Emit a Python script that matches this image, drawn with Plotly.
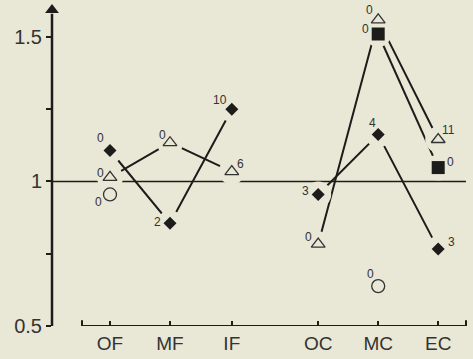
import plotly.graph_objects as go

# --- data ---
categories = ["OF", "MF", "IF", "OC", "MC", "EC"]
cat_pos = [1, 2, 3.03, 4.47, 5.47, 6.47]   # IF/OC gap is wider in the original

# filled diamonds
diamond_cat = ["OF", "MF", "IF", "OC", "MC", "EC"]
diamond_val = [1.107, 0.855, 1.25, 0.955, 1.162, 0.766]
diamond_n = [0, 2, 10, 3, 4, 3]

# open triangles
triangle_cat = ["OF", "MF", "IF", "OC", "MC", "EC"]
triangle_val = [1.014, 1.134, 1.034, 0.783, 1.559, 1.145]
triangle_n = [0, 0, 6, 0, 0, 11]

# filled squares
square_cat = ["MC", "EC"]
square_val = [1.51, 1.048]
square_n = [0, 0]

# open circles
circle_cat = ["OF", "MC"]
circle_val = [0.955, 0.638]
circle_n = [0, 0]

# label offsets (px) for the little count numbers
diamond_off = [(-10, -13), (-13, -1), (-12, -9), (-13, -3), (-6, -12), (13, -7)]
triangle_off = [(-10, -4), (-8, -8), (9, -8), (-10, -7), (-9, -10), (10, -10)]
square_off = [(-13, -5), (12, -6)]
circle_off = [(-12, 8), (-8, -12)]

BG = "#e9e7d6"
INK = "#1c1c1a"
pos = dict(zip(categories, cat_pos))

def xs(cats):
    return [pos[c] for c in cats]

fig = go.Figure()

# connecting lines (split into the two region groups)
def add_line(cats, vals):
    fig.add_trace(go.Scatter(x=xs(cats), y=vals, mode="lines",
                             line=dict(color=INK, width=2), hoverinfo="skip",
                             showlegend=False))

add_line(diamond_cat[:3], diamond_val[:3])
add_line(diamond_cat[3:], diamond_val[3:])
add_line(triangle_cat[:3], triangle_val[:3])
add_line(triangle_cat[3:], triangle_val[3:])
add_line(square_cat, square_val)

# background halos so lines stop short of the symbols (old drafting style)
halo_x = xs(diamond_cat) + xs(triangle_cat) + xs(square_cat)
halo_y = diamond_val + triangle_val + square_val
fig.add_trace(go.Scatter(x=halo_x, y=halo_y, mode="markers",
                         marker=dict(symbol="circle", size=26, color=BG, line=dict(width=0)),
                         hoverinfo="skip", showlegend=False))

fig.add_trace(go.Scatter(x=xs(diamond_cat), y=diamond_val, mode="markers",
                         marker=dict(symbol="diamond", size=10, color=INK), showlegend=False))
fig.add_trace(go.Scatter(x=xs(square_cat), y=square_val, mode="markers",
                         marker=dict(symbol="square", size=13, color=INK), showlegend=False))
fig.add_trace(go.Scatter(x=xs(triangle_cat), y=triangle_val, mode="markers",
                         marker=dict(symbol="triangle-up-open", size=12, color="#333",
                                     line=dict(width=1.3)), showlegend=False))
fig.add_trace(go.Scatter(x=xs(circle_cat), y=circle_val, mode="markers",
                         marker=dict(symbol="circle-open", size=13, color="#333",
                                     line=dict(width=1.3)), showlegend=False))

# count labels
for cats, vals, ns, offs in [(diamond_cat, diamond_val, diamond_n, diamond_off),
                             (triangle_cat, triangle_val, triangle_n, triangle_off),
                             (square_cat, square_val, square_n, square_off),
                             (circle_cat, circle_val, circle_n, circle_off)]:
    for c, v, n, (dx, dy) in zip(cats, vals, ns, offs):
        fig.add_annotation(x=pos[c], y=v, text=str(n), showarrow=False,
                           xshift=dx, yshift=-dy,
                           font=dict(family="Liberation Sans, Arial", size=12, color="#333"))

# axes drawn by hand to mimic the original
x_left, x_right = 0.0333, 6.9667
fig.add_shape(type="line", xref="paper", x0=0, x1=0, y0=0.5, y1=1.58,
              line=dict(color=INK, width=2.5))
fig.add_shape(type="line", x0=0.533, x1=6.933, y0=0.5, y1=0.5,
              line=dict(color=INK, width=2))
for xe in [0.533, 6.933]:
    fig.add_shape(type="line", x0=xe, x1=xe, y0=0.5, y1=0.52,
                  line=dict(color=INK, width=2))
fig.add_shape(type="line", x0=x_left, x1=6.933, y0=1, y1=1,
              line=dict(color=INK, width=1.5), layer="below")
# arrow head on the y axis
fig.add_trace(go.Scatter(x=[x_left], y=[1.593], mode="markers", cliponaxis=False,
                         marker=dict(symbol="triangle-up", size=12, color=INK),
                         hoverinfo="skip", showlegend=False))

fig.update_layout(
    width=473, height=359,
    margin=dict(l=52, r=5, t=0, b=33),
    paper_bgcolor=BG, plot_bgcolor=BG,
    font=dict(family="Liberation Sans, Arial", color="#2a2a2a"),
    xaxis=dict(range=[x_left, x_right], showgrid=False, zeroline=False, showline=False,
               tickmode="array", tickvals=cat_pos, ticktext=categories,
               ticks="inside", ticklen=5, tickwidth=1.5, tickcolor=INK,
               ticklabelstandoff=4, tickfont=dict(size=19, color="#333")),
    yaxis=dict(range=[0.5, 1.6276], showgrid=False, zeroline=False, showline=False,
               tickmode="array", tickvals=[0.5, 0.75, 1, 1.25, 1.5],
               ticktext=["0.5", "", "1", "", "1.5"],
               ticks="outside", ticklen=5, tickwidth=1.5, tickcolor=INK,
               tickfont=dict(size=20, color="#333")),
)

# no modebar, and no default page margin so the chart sits at the window origin
fig.write_html("out.html", config={"displayModeBar": False},
               post_script="document.body.style.margin='0';"
                           f"document.body.style.background='{BG}';")
